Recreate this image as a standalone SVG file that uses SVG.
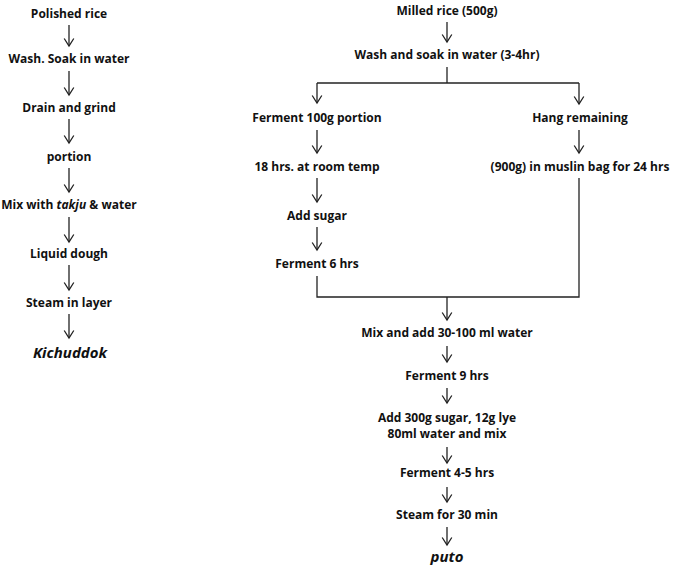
<svg xmlns="http://www.w3.org/2000/svg" width="685" height="574" viewBox="0 0 685 574">
<style>
  text { font-family: "Open Sans", "Noto Sans", "DejaVu Sans", sans-serif; font-weight: bold; font-size: 12px; fill: #111111; text-anchor: middle; }
  .it { font-style: italic; }
  .big { font-size: 15px; }
  .ln { stroke: #222222; stroke-width: 1.3; fill: none; }
  .ar { stroke: #222222; stroke-width: 1.3; fill: none; marker-end: url(#ah); }
</style>
<defs>
  <marker id="ah" markerUnits="userSpaceOnUse" markerWidth="12" markerHeight="12" refX="0" refY="0" orient="auto" overflow="visible">
    <path d="M-7.5,-4.8 L0,0 L-7.5,4.8" fill="none" stroke="#222222" stroke-width="1.3"/>
  </marker>
</defs>
<rect width="685" height="574" fill="#ffffff"/>

<g id="connectors">
  <line class="ar" x1="69" y1="25" x2="69" y2="46"/>
  <line class="ar" x1="69" y1="71" x2="69" y2="95"/>
  <line class="ar" x1="69" y1="119" x2="69" y2="143"/>
  <line class="ar" x1="69" y1="168" x2="69" y2="192"/>
  <line class="ar" x1="69" y1="217" x2="69" y2="242"/>
  <line class="ar" x1="69" y1="265" x2="69" y2="290"/>
  <line class="ar" x1="69" y1="314" x2="69" y2="338"/>
  <line class="ar" x1="447" y1="22" x2="447" y2="42"/>
  <line class="ln" x1="447" y1="67" x2="447" y2="83"/>
  <line class="ln" x1="317" y1="83" x2="579" y2="83"/>
  <line class="ar" x1="317" y1="83" x2="317" y2="103"/>
  <line class="ar" x1="579" y1="83" x2="579" y2="104"/>
  <line class="ar" x1="317" y1="130" x2="317" y2="153"/>
  <line class="ar" x1="579" y1="130" x2="579" y2="153"/>
  <line class="ar" x1="317" y1="178" x2="317" y2="202"/>
  <line class="ar" x1="317" y1="227" x2="317" y2="250"/>
  <polyline class="ln" points="317,276 317,297 579,297 579,178"/>
  <line class="ar" x1="447" y1="297" x2="447" y2="320"/>
  <line class="ar" x1="447" y1="346" x2="447" y2="362"/>
  <line class="ar" x1="447" y1="388" x2="447" y2="403"/>
  <line class="ar" x1="447" y1="447" x2="447" y2="463"/>
  <line class="ar" x1="447" y1="487" x2="447" y2="502"/>
  <line class="ar" x1="447" y1="527" x2="447" y2="545"/>
</g>

<g id="polished-rice"><text x="69" y="18">Polished rice</text></g>
<g id="wash-soak"><text x="69" y="63">Wash. Soak in water</text></g>
<g id="drain-grind"><text x="69" y="112">Drain and grind</text></g>
<g id="portion"><text x="69" y="161">portion</text></g>
<g id="mix-takju"><text x="69" y="209">Mix with <tspan class="it">takju</tspan> &amp; water</text></g>
<g id="liquid-dough"><text x="69" y="258">Liquid dough</text></g>
<g id="steam-layer"><text x="69" y="307">Steam in layer</text></g>
<g id="kichuddok"><text class="it big" x="70" y="358">Kichuddok</text></g>

<g id="milled-rice"><text x="447" y="15">Milled rice (500g)</text></g>
<g id="wash-soak-right"><text x="447" y="59">Wash and soak in water (3-4hr)</text></g>
<g id="ferment-100g"><text x="317" y="122">Ferment 100g portion</text></g>
<g id="hang-remaining"><text x="580" y="122">Hang remaining</text></g>
<g id="room-temp"><text x="317" y="171">18 hrs. at room temp</text></g>
<g id="muslin-bag"><text x="580" y="171">(900g) in muslin bag for 24 hrs</text></g>
<g id="add-sugar"><text x="317" y="220">Add sugar</text></g>
<g id="ferment-6"><text x="317" y="268">Ferment 6 hrs</text></g>
<g id="mix-add-water"><text x="447" y="337">Mix and add 30-100 ml water</text></g>
<g id="ferment-9"><text x="447" y="380">Ferment 9 hrs</text></g>
<g id="add-300g"><text x="447" y="422">Add 300g sugar, 12g lye</text><text x="447" y="438">80ml water and mix</text></g>
<g id="ferment-4-5"><text x="447" y="477">Ferment 4-5 hrs</text></g>
<g id="steam-30"><text x="447" y="519">Steam for 30 min</text></g>
<g id="puto"><text class="it big" x="447" y="562">puto</text></g>
</svg>
